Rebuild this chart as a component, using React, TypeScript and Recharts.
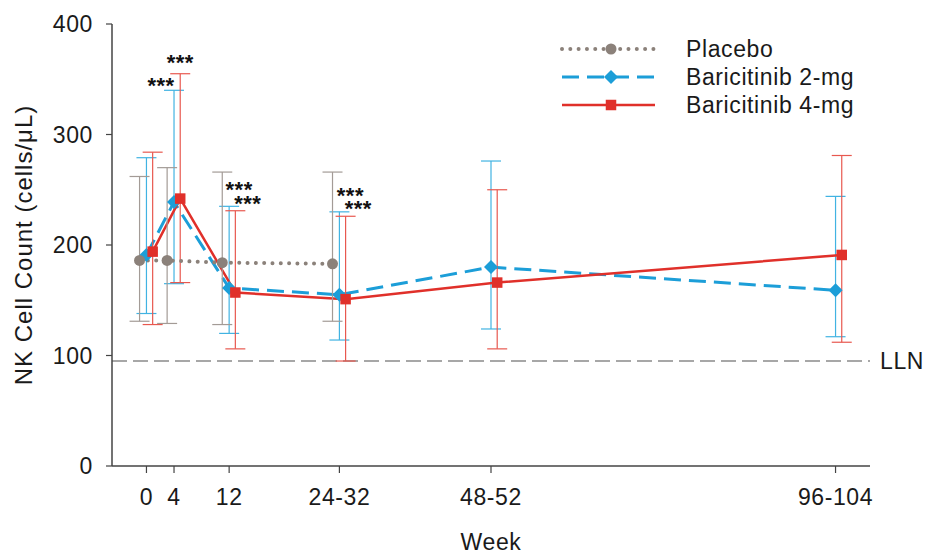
import React from 'react';
import {
  LineChart,
  Line,
  XAxis,
  YAxis,
  ErrorBar,
  ReferenceLine,
  ReferenceDot,
  Legend,
  Label,
} from 'recharts';

// ---------- data ----------
const weekTicks = [0, 4, 12, 28, 50, 100];
const weekTickLabels = ['0', '4', '12', '24-32', '48-52', '96-104'];
const yTicks = [0, 100, 200, 300, 400];

const seriesNames = ['Placebo', 'Baricitinib 2-mg', 'Baricitinib 4-mg'];

const placeboWeeks = [0, 4, 12, 28];
const placeboMean = [186, 186, 184, 183];
const placeboLow = [131, 129, 128, 131];
const placeboHigh = [262, 270, 266, 266];

const bari2Weeks = [0, 4, 12, 28, 50, 100];
const bari2Mean = [191, 239, 161, 155, 180, 159];
const bari2Low = [138, 165, 120, 114, 124, 117];
const bari2High = [279, 340, 235, 230, 276, 244];

const bari4Weeks = [0, 4, 12, 28, 50, 100];
const bari4Mean = [194, 242, 157, 151, 166, 191];
const bari4Low = [128, 166, 106, 95, 106, 112];
const bari4High = [284, 355, 231, 226, 250, 281];

const llnValue = 95;
const llnLabel = 'LLN';

const sigWeeks2 = [4, 12, 28];
const sigWeeks4 = [4, 12, 28];
const sigText = '***';

// ---------- styles ----------
const FONT = 'Liberation Sans, Arial, Helvetica, sans-serif';
const FS = 23;
const LS = 0.6;
const C_PLACEBO = '#8b817a';
const C_PLACEBO_ERR = '#a39b96';
const C_B2 = '#1c9ed8';
const C_B2_ERR = '#41b3e2';
const C_B4 = '#e0302a';
const C_B4_ERR = '#e8584f';
const AXIS = '#444444';
const TEXT = '#1a1a1a';

// horizontal dodge (in week units) so error bars do not overlap
const DODGE = { placebo: -1.0, b2: 0, b4: 0.9 };

// label offsets (pixels) for significance marks
const sigOffsets2 = [
  { dx: -13, dy: 2.5 },
  { dx: 10, dy: -9.5 },
  { dx: 11, dy: -8.5 },
];
const sigOffsets4 = [
  { dx: 0, dy: -3.5 },
  { dx: 12.5, dy: 0 },
  { dx: 12.7, dy: -0.5 },
];

type Pt = { x: number; y: number; err: [number, number]; high: number };

const build = (
  weeks: number[],
  mean: number[],
  low: number[],
  high: number[],
  dodge: number
): Pt[] =>
  weeks.map((w, i) => ({
    x: w + dodge,
    y: mean[i],
    err: [mean[i] - low[i], high[i] - mean[i]],
    high: high[i],
  }));

const placeboData = build(placeboWeeks, placeboMean, placeboLow, placeboHigh, DODGE.placebo);
const bari2Data = build(bari2Weeks, bari2Mean, bari2Low, bari2High, DODGE.b2);
const bari4Data = build(bari4Weeks, bari4Mean, bari4Low, bari4High, DODGE.b4);

// ---------- markers ----------
const circleShape = (cx: number, cy: number, key: any) => (
  <circle key={key} cx={cx} cy={cy} r={5.5} fill={C_PLACEBO} />
);
const diamondShape = (cx: number, cy: number, key: any) => {
  const h = 7;
  return (
    <path
      key={key}
      d={`M${cx},${cy - h} L${cx + h},${cy} L${cx},${cy + h} L${cx - h},${cy} Z`}
      fill={C_B2}
    />
  );
};
const squareShape = (cx: number, cy: number, key: any) => {
  const s = 10.5;
  return <rect key={key} x={cx - s / 2} y={cy - s / 2} width={s} height={s} fill={C_B4} />;
};

const makeDot = (shape: (cx: number, cy: number, key: any) => any, prefix: string) => (props: any) => {
  const { cx, cy, index } = props;
  if (cx == null || cy == null) return <g key={`${prefix}${index}`} />;
  return shape(cx, cy, `${prefix}${index}`);
};

// ---------- legend ----------
const LegendContent = () => {
  const rows = [
    { dash: '0.01 8.3', w: 4, color: C_PLACEBO, cap: 'round', shape: circleShape },
    { dash: '17 8', w: 3, color: C_B2, cap: 'butt', shape: diamondShape },
    { dash: undefined, w: 2.5, color: C_B4, cap: 'butt', shape: squareShape },
  ];
  return (
    <svg width={340} height={90} style={{ overflow: 'visible', display: 'block' }}>
      {rows.map((r, i) => {
        const y = 14 + i * 28;
        return (
          <g key={i}>
            <line
              x1={7}
              x2={100}
              y1={y}
              y2={y}
              stroke={r.color}
              strokeWidth={r.w}
              strokeDasharray={r.dash}
              strokeLinecap={r.cap as any}
            />
            {r.shape(56, y, `lg${i}`)}
            <text
              x={131}
              y={y + 8}
              fontSize={FS}
              letterSpacing={LS}
              fontFamily={FONT}
              fill={TEXT}
            >
              {seriesNames[i]}
            </text>
          </g>
        );
      })}
    </svg>
  );
};

// ---------- significance label ----------
const sigLabel = (dx: number, dy: number) => (props: any) => {
  const vb = props.viewBox || {};
  const cx = (vb.x ?? 0) + (vb.width ?? 0) / 2;
  const cy = (vb.y ?? 0) + (vb.height ?? 0) / 2;
  return (
    <text
      x={cx + dx}
      y={cy + dy}
      textAnchor="middle"
      fontSize={22}
      fontWeight="bold"
      letterSpacing={0.5}
      fontFamily={FONT}
      fill="#111"
    >
      {sigText}
    </text>
  );
};

const findHigh = (data: Pt[], weeks: number[], w: number) => data[weeks.indexOf(w)].high;

const tickStyle = { fill: TEXT, fontSize: FS, fontFamily: FONT, letterSpacing: LS };

export default function App() {
  return (
    <div style={{ position: 'absolute', left: 0, top: 0, width: 927, height: 554, background: '#fff' }}>
      <LineChart
        width={927}
        height={554}
        margin={{ top: 24, right: 57, bottom: 0, left: 0 }}
      >
        <XAxis
          type="number"
          dataKey="x"
          domain={[-5, 105]}
          ticks={weekTicks}
          interval={0}
          allowDataOverflow
          tickFormatter={(v: number) => weekTickLabels[weekTicks.indexOf(v)] ?? ''}
          height={88}
          tickSize={7}
          tickMargin={16}
          tick={tickStyle}
          axisLine={{ stroke: AXIS, strokeWidth: 1.5 }}
          tickLine={{ stroke: AXIS, strokeWidth: 1.2 }}
        >
          <Label
            content={(p: any) => {
              const vb = p.viewBox;
              return (
                <text
                  x={vb.x + vb.width / 2}
                  y={550}
                  textAnchor="middle"
                  fontSize={FS}
                  letterSpacing={LS}
                  fontFamily={FONT}
                  fill={TEXT}
                >
                  Week
                </text>
              );
            }}
          />
        </XAxis>
        <YAxis
          type="number"
          domain={[0, 400]}
          ticks={yTicks}
          interval={0}
          width={112}
          tickSize={6}
          tickMargin={13}
          tick={tickStyle}
          axisLine={{ stroke: AXIS, strokeWidth: 1.5 }}
          tickLine={{ stroke: AXIS, strokeWidth: 1.2 }}
        >
          <Label
            content={(p: any) => {
              const vb = p.viewBox;
              const x = 31.5;
              const y = vb.y + vb.height / 2;
              return (
                <text
                  x={x}
                  y={y}
                  transform={`rotate(-90, ${x}, ${y})`}
                  textAnchor="middle"
                  fontSize={24}
                  letterSpacing={1}
                  fontFamily={FONT}
                  fill={TEXT}
                >
                  NK Cell Count (cells/μL)
                </text>
              );
            }}
          />
        </YAxis>

        <ReferenceLine
          y={llnValue}
          stroke="#8a8a8a"
          strokeWidth={1.5}
          strokeDasharray="15 6"
          label={{
            value: llnLabel,
            position: 'right',
            offset: 10,
            fontSize: FS,
            letterSpacing: LS,
            fontFamily: FONT,
            fill: TEXT,
          } as any}
        />

        <Line
          data={bari2Data}
          dataKey="y"
          name={seriesNames[1]}
          stroke={C_B2}
          strokeWidth={3}
          strokeDasharray="17 8"
          dot={makeDot(diamondShape, 'b2')}
          activeDot={false}
          isAnimationActive={false}
        >
          <ErrorBar dataKey="err" width={10} stroke={C_B2_ERR} strokeWidth={1.2} direction="y" />
        </Line>
        <Line
          data={bari4Data}
          dataKey="y"
          name={seriesNames[2]}
          stroke={C_B4}
          strokeWidth={2.5}
          dot={makeDot(squareShape, 'b4')}
          activeDot={false}
          isAnimationActive={false}
        >
          <ErrorBar dataKey="err" width={10} stroke={C_B4_ERR} strokeWidth={1.2} direction="y" />
        </Line>
        <Line
          data={placeboData}
          dataKey="y"
          name={seriesNames[0]}
          stroke={C_PLACEBO}
          strokeWidth={4}
          strokeDasharray="0.01 8.3"
          strokeLinecap="round"
          dot={makeDot(circleShape, 'pl')}
          activeDot={false}
          isAnimationActive={false}
        >
          <ErrorBar dataKey="err" width={10} stroke={C_PLACEBO_ERR} strokeWidth={1.2} direction="y" />
        </Line>

        {sigWeeks2.map((w, i) => (
          <ReferenceDot
            key={`s2${w}`}
            x={w + DODGE.b2}
            y={findHigh(bari2Data, bari2Weeks, w)}
            r={1}
            fill="none"
            stroke="none"
            label={{ content: sigLabel(sigOffsets2[i].dx, sigOffsets2[i].dy) } as any}
          />
        ))}
        {sigWeeks4.map((w, i) => (
          <ReferenceDot
            key={`s4${w}`}
            x={w + DODGE.b4}
            y={findHigh(bari4Data, bari4Weeks, w)}
            r={1}
            fill="none"
            stroke="none"
            label={{ content: sigLabel(sigOffsets4[i].dx, sigOffsets4[i].dy) } as any}
          />
        ))}

        <Legend
          layout="horizontal"
          verticalAlign="middle"
          align="center"
          content={() => <LegendContent />}
          wrapperStyle={{ left: 555, top: 35, width: 340, height: 90 }}
        />
      </LineChart>
    </div>
  );
}
